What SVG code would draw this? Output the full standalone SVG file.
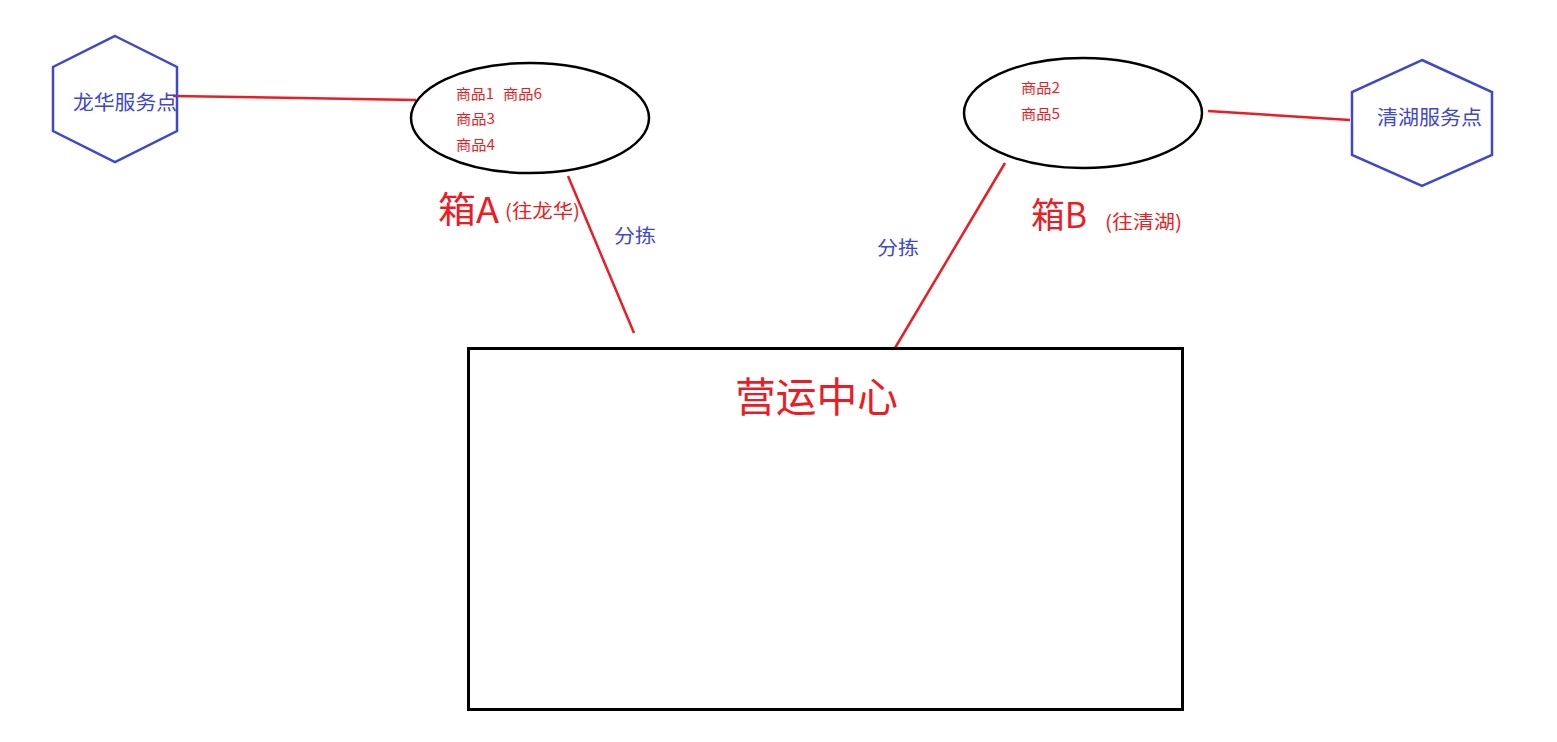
<svg xmlns="http://www.w3.org/2000/svg" width="1557" height="742" viewBox="0 0 1557 742">
<style>
.hex{fill:none;stroke:#3f48cc;stroke-width:2.5}
.ell{fill:none;stroke:#000;stroke-width:2.5}
.box{fill:none;stroke:#000;stroke-width:3}
.red{stroke:#ed1c24;stroke-width:2.5;fill:none}
text{font-family:"Microsoft YaHei","Noto Sans CJK SC",sans-serif}
.rt{fill:#ed1c24}
.bt{fill:#3f48cc}
.item{font-size:14px}
</style>
<rect width="1557" height="742" fill="#fff"/>
<g id="connectors">
<line class="red" x1="173" y1="96" x2="416" y2="100"/>
<line class="red" x1="1208" y1="111" x2="1350" y2="120"/>
<line class="red" x1="568" y1="176" x2="634" y2="333"/>
<line class="red" x1="1005" y1="163" x2="895" y2="348"/>
</g>
<g id="longhua">
<polygon class="hex" points="115,36 177,67 177,131 115,162 53,131 53,67"/>
<text class="bt" x="73" y="110" font-size="20" textLength="104" lengthAdjust="spacingAndGlyphs">龙华服务点</text>
</g>
<g id="qinghu">
<polygon class="hex" points="1422,60 1492,92 1492,155 1422,186 1352,155 1352,92"/>
<text class="bt" x="1377" y="125" font-size="20" textLength="105" lengthAdjust="spacingAndGlyphs">清湖服务点</text>
</g>
<g id="boxA">
<ellipse class="ell" cx="530" cy="118" rx="119" ry="55"/>
<text class="rt item" x="456" y="99" textLength="38" lengthAdjust="spacingAndGlyphs">商品1</text>
<text class="rt item" x="503" y="99" textLength="39" lengthAdjust="spacingAndGlyphs">商品6</text>
<text class="rt item" x="456" y="124" textLength="39" lengthAdjust="spacingAndGlyphs">商品3</text>
<text class="rt item" x="456" y="150" textLength="39" lengthAdjust="spacingAndGlyphs">商品4</text>
<text class="rt" x="438" y="223" font-size="36" textLength="61" lengthAdjust="spacingAndGlyphs">箱A</text>
<text class="rt" x="505" y="218" font-size="19" textLength="75" lengthAdjust="spacingAndGlyphs">(往龙华)</text>
</g>
<g id="boxB">
<ellipse class="ell" cx="1083" cy="113" rx="119" ry="55"/>
<text class="rt item" x="1021" y="93" textLength="39" lengthAdjust="spacingAndGlyphs">商品2</text>
<text class="rt item" x="1021" y="119" textLength="39" lengthAdjust="spacingAndGlyphs">商品5</text>
<text class="rt" x="1031" y="228" font-size="35" textLength="56" lengthAdjust="spacingAndGlyphs">箱B</text>
<text class="rt" x="1105" y="229" font-size="19" textLength="77" lengthAdjust="spacingAndGlyphs">(往清湖)</text>
</g>
<g id="sortA"><text class="bt" x="614" y="243" font-size="19" textLength="42" lengthAdjust="spacingAndGlyphs">分拣</text></g>
<g id="sortB"><text class="bt" x="877" y="255" font-size="19" textLength="42" lengthAdjust="spacingAndGlyphs">分拣</text></g>
<g id="center">
<rect class="box" x="468.5" y="348.5" width="714" height="361"/>
<text class="rt" x="735" y="412" font-size="41" textLength="163" lengthAdjust="spacingAndGlyphs">营运中心</text>
</g>
</svg>
